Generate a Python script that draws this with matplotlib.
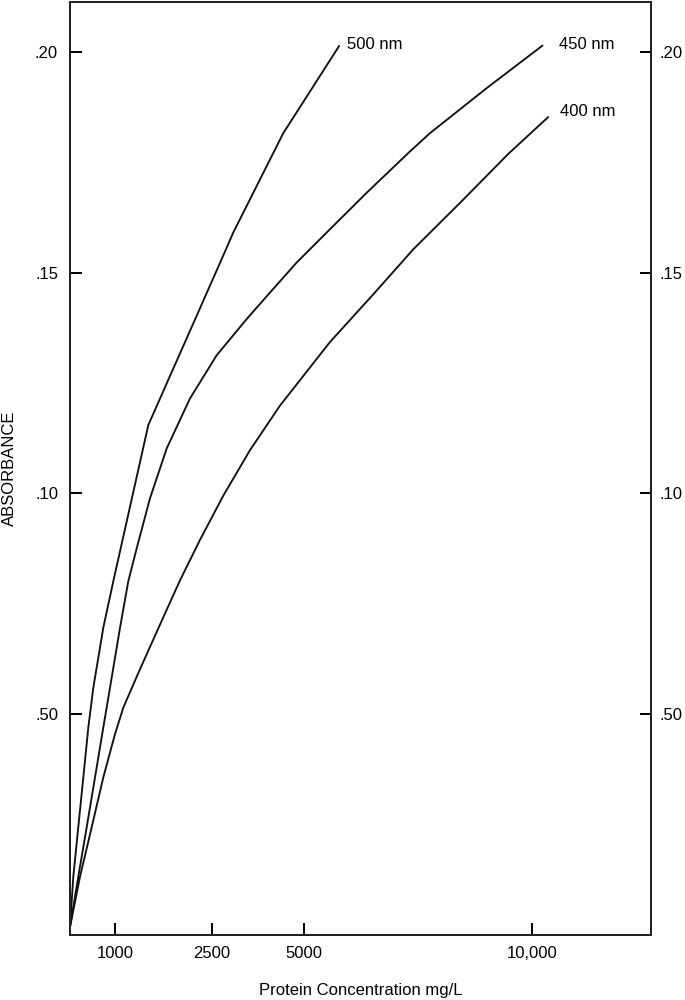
import numpy as np
import matplotlib
matplotlib.use('Agg')
import matplotlib.pyplot as plt

plt.rcParams['font.family'] = ['Liberation Sans', 'DejaVu Sans']

# x axis of the original is not linear: piecewise spacing between the ticks
conc_knots = [0, 1000, 2500, 5000, 10000, 12610]
pos_knots = [0, 45, 141.7, 234, 462, 581]

x_ticks = [1000, 2500, 5000, 10000]
x_tick_labels = ['1000', '2500', '5000', '10,000']
y_ticks = [0.05, 0.10, 0.15, 0.20]
y_tick_labels = ['.50', '.10', '.15', '.20']

# protein concentration (mg/L) and absorbance for each wavelength
conc_500 = [0, 73, 184, 296, 407, 518, 740, 962, 1517, 1853, 2163, 2474,
            2725, 3085, 3627, 4168, 4439, 5768]
abs_500 = [0.0018, 0.0132, 0.0244, 0.0357, 0.0470, 0.0560, 0.0696, 0.0801,
           0.1155, 0.1266, 0.1368, 0.1471, 0.1522, 0.1591, 0.1681, 0.1771,
           0.1816, 0.2013]

conc_450 = [0, 184, 371, 556, 740, 889, 1078, 1206, 1337, 1543, 1802, 2163,
            2635, 3448, 4079, 4802, 5498, 6375, 7287, 7763, 9007, 10226]
abs_450 = [0.0018, 0.0132, 0.0244, 0.0357, 0.0470, 0.0560, 0.0696, 0.0801,
           0.0876, 0.0989, 0.1102, 0.1215, 0.1313, 0.1395, 0.1455, 0.1523,
           0.1591, 0.1681, 0.1771, 0.1816, 0.1918, 0.2014]

conc_400 = [0, 222, 482, 740, 1000, 1129, 1388, 1698, 2008, 2319, 2814, 3537,
            4350, 5570, 6520, 7397, 8421, 9480, 10351]
abs_400 = [0.0018, 0.0132, 0.0244, 0.0357, 0.0455, 0.0515, 0.0602, 0.0703,
           0.0803, 0.0895, 0.0995, 0.1098, 0.1199, 0.1343, 0.1451, 0.1553,
           0.1658, 0.1769, 0.1852]

series = [
    (conc_500, abs_500, '500 nm', (5.8, -2)),
    (conc_450, abs_450, '450 nm', (12, -2.2)),
    (conc_400, abs_400, '400 nm', (8.6, 1.2)),
]


def fwd(x):
    return np.interp(x, conc_knots, pos_knots)


def inv(p):
    return np.interp(p, pos_knots, conc_knots)


fig = plt.figure(figsize=(6.85, 10), dpi=100)
ax = fig.add_axes([70 / 685, 65 / 1000, 581 / 685, 933 / 1000])
ax.set_xscale('function', functions=(fwd, inv))

for xs, ys, name, off in series:
    ax.plot(xs, ys, color='#111111', lw=1.35, solid_joinstyle='round')
    ax.annotate(name, xy=(xs[-1], ys[-1]), xytext=off, textcoords='offset points',
                va='baseline', ha='left', fontsize=12)

ax.set_xlim(0, 12610)
ax.set_ylim(0, 0.2113)

ax.set_xticks(x_ticks)
ax.set_xticklabels(x_tick_labels)
ax.set_yticks(y_ticks)
ax.set_yticklabels(y_tick_labels)
ax.minorticks_off()

for s in ax.spines.values():
    s.set_linewidth(1.4)
    s.set_color('#222222')

ax.tick_params(axis='both', direction='in', length=8.5, width=1.4,
               labelsize=12)
ax.tick_params(axis='x', pad=8)
ax.tick_params(axis='y', pad=8.6)

ax2 = ax.twinx()
ax2.set_ylim(ax.get_ylim())
ax2.set_yticks(y_ticks)
ax2.set_yticklabels(y_tick_labels)
ax2.minorticks_off()
ax2.tick_params(axis='y', direction='in', length=8, width=1.4, pad=5.8,
                labelsize=12)
for s in ax2.spines.values():
    s.set_linewidth(1.4)
    s.set_color('#222222')

ax.set_ylabel('ABSORBANCE', fontsize=12)
ax.yaxis.set_label_coords(-0.091, 0.5)
ax.set_xlabel('Protein Concentration mg/L', fontsize=12)
ax.xaxis.set_label_coords(0.5, -0.051)

fig.savefig('out.png', dpi=100)
